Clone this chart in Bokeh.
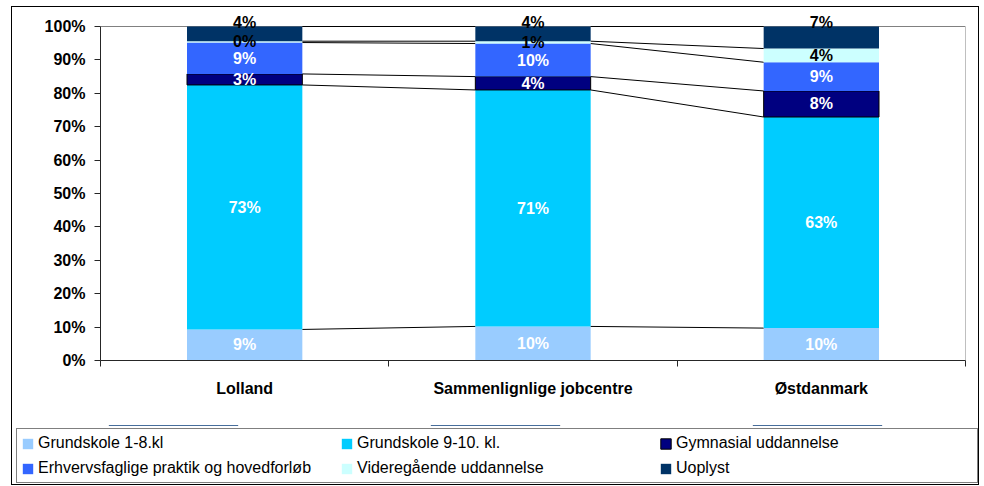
from bokeh.plotting import figure
from bokeh.layouts import column
from bokeh.models import (FixedTicker, PrintfTickFormatter, Legend, LegendItem, Range1d)
from bokeh.core.properties import value
from bokeh.embed import file_html
from bokeh.resources import INLINE

categories = ["Lolland", "Sammenlignlige jobcentre", "Østdanmark"]
series_names = ["Grundskole 1-8.kl", "Grundskole 9-10. kl.", "Gymnasial uddannelse",
                "Erhvervsfaglige praktik og hovedforløb", "Videregående uddannelse", "Uoplyst"]
grundskole_1_8 = [9.3, 10.2, 9.7]
grundskole_9_10 = [73.2, 70.8, 63.2]
gymnasial = [3.3, 4.0, 7.8]
erhvervsfaglige = [9.4, 9.9, 8.6]
videregaaende = [0.4, 0.7, 4.1]
uoplyst = [4.4, 4.4, 6.6]
y_ticks = list(range(0, 101, 10))

series_values = [grundskole_1_8, grundskole_9_10, gymnasial, erhvervsfaglige, videregaaende, uoplyst]
colors = ["#99CCFF", "#00CCFF", "#000080", "#3366FF", "#CCFFFF", "#003366"]
outline = [None, None, "black", None, None, None]
label_colors = ["white", "white", "white", "white", "black", "black"]

FONT = "Liberation Sans"

# frame geometry (pixels inside the main figure)
FIG_W, FIG_H = 966, 418
FR_LEFT, FR_RIGHT = 88, 953
FR_TOP, FR_BOTTOM = 2, 353
PX_PER_100 = 334.0
Y_MAX = 100 * (FR_BOTTOM - FR_TOP) / PX_PER_100
X_MAX = len(categories)

p = figure(width=FIG_W, height=FIG_H, x_range=Range1d(0, X_MAX), y_range=Range1d(0, Y_MAX),
           output_backend="svg", toolbar_location=None,
           min_border_left=FR_LEFT, min_border_right=FIG_W - FR_RIGHT,
           min_border_top=FR_TOP, min_border_bottom=FIG_H - FR_BOTTOM)
p.frame_align = False
p.xgrid.visible = False
p.ygrid.visible = False
p.outline_line_color = None
p.background_fill_color = "white"
p.border_fill_color = "white"

# plot-area border (top at 100%, right edge)
p.segment(x0=[0, X_MAX], y0=[100, 0], x1=[X_MAX, X_MAX], y1=[100, 100],
          line_color="#808080", line_width=1)

xs = [i + 0.5 for i in range(len(categories))]
bar_w = 0.4

# legend figure (frame covers the whole figure; its bars lie outside its view)
LEG_H = 59
pl = figure(width=FIG_W, height=LEG_H, x_range=Range1d(0, X_MAX), y_range=Range1d(-300, -200),
            output_backend="svg", toolbar_location=None, min_border=0,
            x_axis_location=None, y_axis_location=None)
pl.frame_align = False
pl.xgrid.visible = False
pl.ygrid.visible = False
pl.outline_line_color = None
pl.background_fill_color = "white"
pl.border_fill_color = "white"

bottoms = [0.0] * len(categories)
leg_renderers = []
for k, vals in enumerate(series_values):
    tops = [b + v for b, v in zip(bottoms, vals)]
    p.vbar(x=xs, width=bar_w, bottom=bottoms, top=tops, fill_color=colors[k],
           line_color=outline[k], line_width=1)
    leg_renderers.append(pl.vbar(x=xs, width=bar_w, bottom=bottoms, top=tops,
                                 fill_color=colors[k], line_color=outline[k], line_width=1))
    # series lines between bars
    p.segment(x0=[x + bar_w / 2 for x in xs[:-1]], y0=tops[:-1],
              x1=[x - bar_w / 2 for x in xs[1:]], y1=tops[1:],
              line_color="black", line_width=1)
    bottoms = tops

bottoms = [0.0] * len(categories)
for k, vals in enumerate(series_values):
    tops = [b + v for b, v in zip(bottoms, vals)]
    if k == len(series_values) - 1:
        ly = tops
        yoff = -4
    else:
        ly = [b + v / 2 for b, v in zip(bottoms, vals)]
        yoff = 0
    p.text(x=xs, y=ly, text=[f"{round(v)}%" for v in vals], text_color=label_colors[k],
           text_align="center", text_baseline="middle", y_offset=yoff,
           text_font=value(FONT), text_font_style="bold", text_font_size="16px")
    bottoms = tops

# y axis
p.yaxis.ticker = FixedTicker(ticks=y_ticks, minor_ticks=[])
p.yaxis.bounds = (0, 100)
p.yaxis.formatter = PrintfTickFormatter(format="%d%%")
p.yaxis.major_label_text_font = FONT
p.yaxis.major_label_text_font_style = "bold"
p.yaxis.major_label_text_font_size = "16px"
p.yaxis.major_label_text_color = "black"
p.yaxis.major_tick_out = 6
p.yaxis.major_tick_in = 0
p.yaxis.major_label_standoff = 9
p.yaxis.axis_line_color = "#262626"
p.yaxis.major_tick_line_color = "#262626"

# x axis
p.xaxis.ticker = FixedTicker(ticks=xs, minor_ticks=list(range(len(categories) + 1)))
p.xaxis.major_label_overrides = {x: c for x, c in zip(xs, categories)}
p.xaxis.major_label_text_font = FONT
p.xaxis.major_label_text_font_style = "bold"
p.xaxis.major_label_text_font_size = "16px"
p.xaxis.major_label_text_color = "black"
p.xaxis.major_tick_out = 0
p.xaxis.major_tick_in = 0
p.xaxis.minor_tick_out = 6
p.xaxis.minor_tick_in = 0
p.xaxis.major_label_standoff = 13
p.xaxis.axis_line_color = "#262626"
p.xaxis.minor_tick_line_color = "#262626"

legend = Legend(items=[LegendItem(label=n, renderers=[r]) for n, r in zip(series_names, leg_renderers)],
                location=(4, 1), orientation="horizontal", ncols=3,
                border_line_color="black", border_line_width=1, background_fill_color="white",
                glyph_width=13, glyph_height=13, label_standoff=4, label_width=297,
                label_height=20, spacing=5, padding=4, margin=0,
                label_text_font=FONT, label_text_font_size="16px", label_text_color="black")
pl.add_layout(legend, "center")

layout = column(p, pl, spacing=0, styles={"border": "1px solid black"}, margin=(6, 0, 0, 11))

open("out.html", "w").write(file_html(layout, INLINE))
